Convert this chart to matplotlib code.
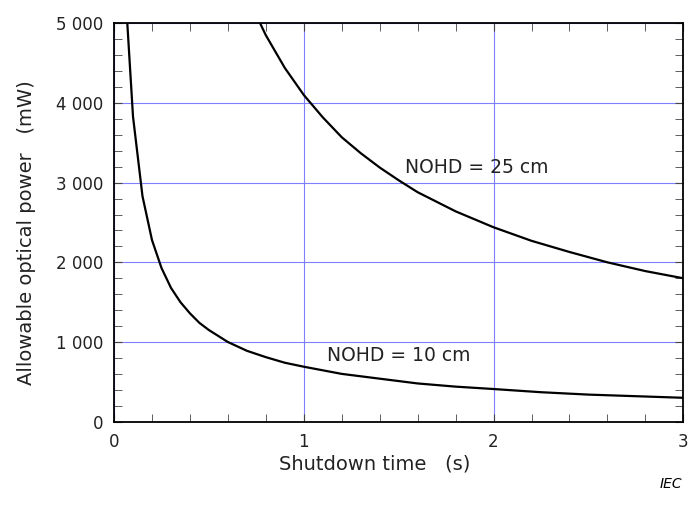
import matplotlib
matplotlib.use("Agg")
import matplotlib.pyplot as plt
from matplotlib.ticker import MultipleLocator, FuncFormatter

plt.rcParams['font.family'] = ['DejaVu Sans']

# values
t_10cm = [0.07, 0.1, 0.15, 0.2, 0.25, 0.3, 0.35, 0.4, 0.45, 0.5, 0.6, 0.7,
          0.8, 0.9, 1.0, 1.2, 1.4, 1.6, 1.8, 2.0, 2.25, 2.5, 2.75, 3.0]
p_10cm = [5000, 3830, 2830, 2280, 1930, 1680, 1500, 1360, 1240, 1150, 1000, 890,
          810, 740, 690, 600, 540, 480, 440, 410, 370, 340, 320, 300]

t_25cm = [0.77, 0.8, 0.9, 1.0, 1.1, 1.2, 1.3, 1.4, 1.5, 1.6, 1.8, 2.0,
          2.2, 2.4, 2.6, 2.8, 3.0]
p_25cm = [5000, 4850, 4440, 4100, 3820, 3570, 3370, 3190, 3030, 2880, 2640, 2440,
          2270, 2130, 2000, 1890, 1800]

x_ticks = [0, 1, 2, 3]
y_ticks = [0, 1000, 2000, 3000, 4000, 5000]

fig = plt.figure(figsize=(6.94, 5.21), dpi=100)
ax = fig.add_axes([0.1643, 0.1906, 0.8203, 0.7647])

ax.plot(t_10cm, p_10cm, color='black', lw=1.6, zorder=3)
ax.plot(t_25cm, p_25cm, color='black', lw=1.6, zorder=3)

ax.set_xlim(0, 3)
ax.set_ylim(0, 5000)
ax.set_xticks(x_ticks)
ax.set_yticks(y_ticks)
ax.xaxis.set_minor_locator(MultipleLocator(0.2))
ax.yaxis.set_minor_locator(MultipleLocator(200))
ax.yaxis.set_major_formatter(FuncFormatter(lambda v, p: '{:,.0f}'.format(v).replace(',', ' ')))
ax.tick_params(which='both', direction='in', top=True, right=True,
               color='#444444', labelsize=12, labelcolor='#222222')
ax.tick_params(which='major', length=6, pad=8)
ax.tick_params(which='minor', length=6)
ax.grid(True, which='major', color='#7f7fff', lw=0.8)
for s in ax.spines.values():
    s.set_linewidth(1.3)

ax.text(1.122, 837, 'NOHD = 10 cm', fontsize=13.5, va='center', color='#222222')
ax.text(1.533, 3196, 'NOHD = 25 cm', fontsize=13.5, va='center', color='#222222')

ax.set_xlabel('Shutdown time   (s)', fontsize=14, labelpad=3, color='#222222', x=0.458)
ax.set_ylabel('Allowable optical power   (mW)', fontsize=14, labelpad=14, color='#222222', y=0.475)
fig.text(0.983, 0.071, 'IEC', fontsize=10, style='italic', ha='right', va='center')

fig.savefig('out.png', dpi=100)
